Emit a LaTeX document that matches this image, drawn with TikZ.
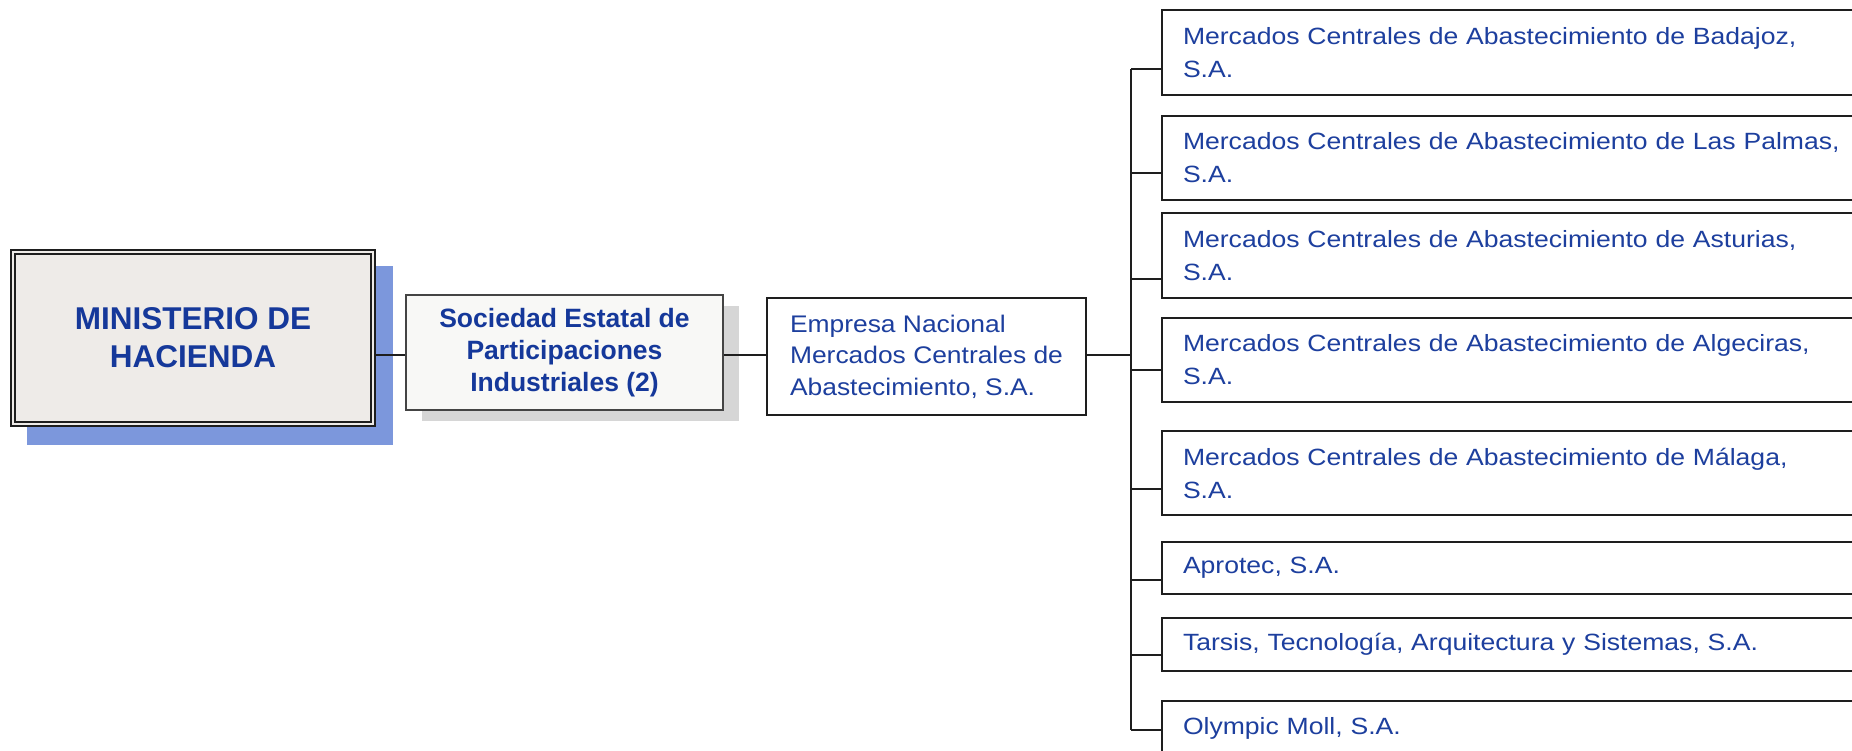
\documentclass[tikz,border=0pt]{standalone}
\usepackage{fontspec}
\setmainfont{Liberation Sans}
\newfontfamily\regfont[FakeStretch=1.13]{Liberation Sans}
\newfontfamily\empfont[FakeStretch=1.10]{Liberation Sans}
\definecolor{txtbold}{HTML}{15389A}
\definecolor{txtreg}{HTML}{1D3F9E}
\definecolor{minfill}{HTML}{EEEBE8}
\definecolor{shblue}{HTML}{7C97DC}
\definecolor{sepifill}{HTML}{F8F8F6}
\definecolor{sepiline}{HTML}{444444}
\definecolor{shgray}{HTML}{D6D6D6}
\definecolor{linec}{HTML}{1E1E1E}
\tikzset{
  conn/.style={draw=linec, line width=2pt},
  minbox/.style={draw=linec, line width=2pt, double=minfill, double distance=2pt, fill=minfill,
    minimum width=360pt, minimum height=172pt, align=center, text=txtbold,
    font=\bfseries\fontsize{31.5}{38}\selectfont},
  sepibox/.style={draw=sepiline, line width=1.5pt, fill=sepifill, minimum width=317pt, minimum height=115pt,
    align=center, text=txtbold, font=\bfseries\fontsize{26.5}{31.7}\selectfont},
  empbox/.style={draw=linec, line width=2pt, fill=white, minimum width=319pt, minimum height=117pt,
    inner xsep=10pt, align=left, text=txtreg,
    font=\empfont\fontsize{24}{31.5}\selectfont},
  rbox/.style={draw=linec, line width=2pt, fill=white, anchor=north west, minimum height=#1,
    inner xsep=21pt, inner ysep=0pt, text width=697pt, align=left, text=txtreg,
    font=\regfont\fontsize{23.5}{33}\selectfont},
}
\begin{document}
\begin{tikzpicture}[x=1pt,y=-1pt]
\useasboundingbox (0,0) rectangle (1852,750);
\clip (0,0) rectangle (1852,750);
\fill[white] (0,0) rectangle (1852,750);

% shadows
\fill[shblue] (27,266) rectangle (393,445);
\fill[shgray] (422,306) rectangle (739,421);

% main nodes
\node[minbox] (min) at (193,338) {MINISTERIO DE\\HACIENDA};
\node[sepibox] (sepi) at (564.5,352.5) {Sociedad Estatal de\\Participaciones\\Industriales (2)};
\node[empbox] (emp) at (926.5,356.5) {Empresa Nacional\\Mercados Centrales de\\Abastecimiento, S.A.};

\coordinate (bus) at (0,355);
\coordinate (trunk) at (1131,0);

\draw[conn] (min.east |- bus) -- (sepi.west |- bus);
\draw[conn] (sepi.east |- bus) -- (emp.west |- bus);
\draw[conn] (emp.east |- bus) -- (trunk |- bus);

% right boxes
\node[rbox=85pt] (r1) at (1161,9) {Mercados Centrales de Abastecimiento de Badajoz,\\S.A.};
\node[rbox=84pt] (r2) at (1161,115) {Mercados Centrales de Abastecimiento de Las Palmas,\\S.A.};
\node[rbox=85pt] (r3) at (1161,212) {Mercados Centrales de Abastecimiento de Asturias,\\S.A.};
\node[rbox=84pt] (r4) at (1161,317) {Mercados Centrales de Abastecimiento de Algeciras,\\S.A.};
\node[rbox=84pt] (r5) at (1161,430) {Mercados Centrales de Abastecimiento de Málaga,\\S.A.};
\node[rbox=52pt] (r6) at (1161,541) {Aprotec, S.A.};
\node[rbox=53pt] (r7) at (1161,617) {Tarsis, Tecnología, Arquitectura y Sistemas, S.A.};
\node[rbox=54pt] (r8) at (1161,700) {Olympic Moll, S.A.};

% branch levels
\coordinate (b1) at (0,69);
\coordinate (b2) at (0,173);
\coordinate (b3) at (0,279);
\coordinate (b4) at (0,370);
\coordinate (b5) at (0,489);
\coordinate (b6) at (0,580);
\coordinate (b7) at (0,655);
\coordinate (b8) at (0,730);

\draw[conn] (trunk |- b1) -- (trunk |- b8);
\foreach \k in {1,...,8}{
  \draw[conn] (trunk |- b\k) -- (r\k.west |- b\k);
}
\end{tikzpicture}
\end{document}
